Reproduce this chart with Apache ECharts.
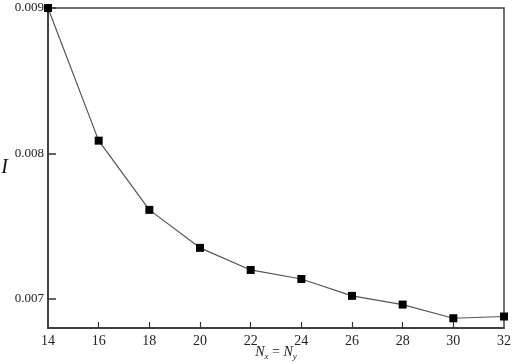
<!DOCTYPE html>
<html><head><meta charset="utf-8">
<script src="https://cdn.jsdelivr.net/npm/echarts@6/dist/echarts.min.js"></script>
<style>html,body{margin:0;padding:0;background:#fff}#c{width:515px;height:364px}</style>
</head><body><div id="c"></div>
<script>
const nValues = [14, 16, 18, 20, 22, 24, 26, 28, 30, 32];
const iValues = [0.00900, 0.008088, 0.007612, 0.007351, 0.007199, 0.007137, 0.007021, 0.006961, 0.006867, 0.006879];
const xTicks = [14, 16, 18, 20, 22, 24, 26, 28, 30, 32];
const yTicks = [0.007, 0.008, 0.009];

const chart = echarts.init(document.getElementById('c'));
const font = 'Liberation Serif, DejaVu Serif, serif';
chart.setOption({
  animation: false,
  grid: {left: 48, right: 11, top: 8, bottom: 36, outerBoundsMode: 'none', containLabel: false,
    show: true, borderColor: '#444', borderWidth: 1.5, backgroundColor: 'transparent'},
  xAxis: {
    type: 'value', min: 14, max: 32, interval: 2,
    axisLine: {show: true, lineStyle: {color: '#333', width: 1.5}},
    axisTick: {show: true, inside: true, length: 6, lineStyle: {color: '#333', width: 1.2}, customValues: xTicks.slice(1, -1)},
    axisLabel: {color: '#222', fontFamily: font, fontSize: 14, margin: 6, customValues: xTicks},
    splitLine: {show: false},
    name: '{i|N}{s|x}{o| = }{i|N}{s|y}', nameLocation: 'middle', nameGap: 16, nameMoveOverlap: false,
    nameTextStyle: {rich: {
      i: {fontFamily: font, fontStyle: 'italic', fontSize: 14, color: '#222'},
      s: {fontFamily: font, fontStyle: 'italic', fontSize: 9, color: '#222', verticalAlign: 'bottom', padding: [8, 0, 0, 0]},
      o: {fontFamily: font, fontSize: 14, color: '#222'}
    }}
  },
  yAxis: {
    type: 'value', min: 0.0068, max: 0.009,
    axisLine: {show: true, lineStyle: {color: '#333', width: 1.5}},
    axisTick: {show: true, inside: true, length: 8, lineStyle: {color: '#333', width: 1.5}, customValues: yTicks},
    axisLabel: {color: '#222', fontFamily: font, fontSize: 13, margin: 4, customValues: yTicks,
      formatter: v => v.toFixed(3)},
    splitLine: {show: false},
    name: 'I', nameLocation: 'middle', nameGap: 40, nameRotate: 0, nameMoveOverlap: false,
    nameTextStyle: {fontFamily: font, fontStyle: 'italic', fontSize: 20, color: '#111', padding: [0, 0, 0, 0]}
  },
  series: [{
    type: 'line',
    data: nValues.map((n, k) => [n, iValues[k]]),
    symbol: 'rect', symbolSize: 8,
    itemStyle: {color: '#000'},
    lineStyle: {color: '#555', width: 1.2}
  }]
});
</script></body></html>
